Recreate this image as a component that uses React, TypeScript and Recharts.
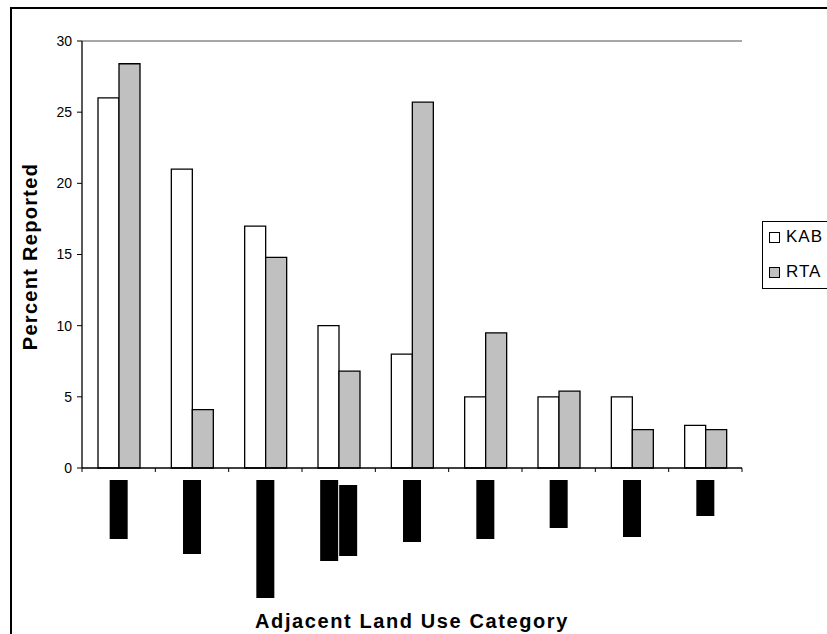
import React from "react";
import { BarChart, Bar, XAxis, YAxis, Legend, ReferenceLine } from "recharts";

// category names are blacked out in the source picture
const categories = ["Cat 1", "Cat 2", "Cat 3", "Cat 4", "Cat 5", "Cat 6", "Cat 7", "Cat 8", "Cat 9"];
const kab = [26, 21, 17, 10, 8, 5, 5, 5, 3];
const rta = [28.4, 4.1, 14.8, 6.8, 25.7, 9.5, 5.4, 2.7, 2.7];
const yTicks = [0, 5, 10, 15, 20, 25, 30];
// length (px) of the black redaction blocks standing in for each rotated label line
const redactedLabelLengths = [[59], [74], [118], [81, 71], [62], [59], [48], [57], [36]];

const data = categories.map((name, i) => ({
	name,
	KAB: kab[i],
	RTA: rta[i],
	blocks: redactedLabelLengths[i],
}));

const FONT = "Arial, 'Liberation Sans', sans-serif";
const fills: Record<string, string> = { KAB: "#ffffff", RTA: "#c0c0c0" };

const RedactedTick = (props: any) => {
	const { x, y, index, width } = props;
	const band = (width || 660) / categories.length;
	const blocks: number[] = redactedLabelLengths[index] || [];
	const colW = 18;
	const total = blocks.length * colW + (blocks.length - 1);
	const start = x - total / 2;
	const axisY = y - 12;
	return (
		<g>
			<line x1={x - band / 2} x2={x - band / 2} y1={axisY} y2={axisY + 4} stroke="#000" />
			{index === categories.length - 1 && (
				<line x1={x + band / 2} x2={x + band / 2} y1={axisY} y2={axisY + 4} stroke="#000" />
			)}
			{blocks.map((len, j) => (
				<rect key={j} x={start + j * (colW + 1)} y={y + (j > 0 ? 5 : 0)} width={colW} height={len} fill="#000" />
			))}
		</g>
	);
};

const LegendBox = (props: any) => {
	const items = props.payload || [];
	return (
		<div style={{ border: "1px solid #000", background: "#fff", height: 66, paddingLeft: 6, boxSizing: "content-box" }}>
			{items.map((it: any, i: number) => (
				<div
					key={it.value}
					style={{ display: "flex", alignItems: "center", height: 30, marginTop: i > 0 ? 5 : 0, fontFamily: FONT, fontSize: 17, letterSpacing: 1, color: "#000" }}
				>
					<span style={{ width: 9, height: 9, border: "1px solid #000", background: fills[it.value], marginRight: 6, display: "inline-block" }} />
					{it.value}
				</div>
			))}
		</div>
	);
};

export default function App() {
	return (
		<div style={{ position: "fixed", left: 0, top: 0, width: 827, height: 634, overflow: "hidden", background: "#fff" }}>
			<div style={{ position: "absolute", left: 10, top: 7, width: 900, height: 700, border: "2px solid #000" }} />
			<div style={{ position: "absolute", left: 0, top: 0 }}>
				<BarChart
					width={827}
					height={634}
					data={data}
					barGap={0}
					margin={{ top: 41, right: 85, left: 22, bottom: 0 }}
				>
					<ReferenceLine y={30} stroke="#8a8a8a" strokeWidth={1.5} />
					<XAxis
						dataKey="name"
						height={166}
						interval={0}
						tickLine={false}
						tickSize={4}
						tickMargin={8}
						axisLine={{ stroke: "#000", strokeWidth: 1.3 }}
						tick={<RedactedTick />}
						label={{
							content: ({ viewBox }: any) => (
								<text
									x={viewBox.x + viewBox.width / 2}
									y={viewBox.y + 160}
									textAnchor="middle"
									fontFamily={FONT}
									fontWeight="bold"
									fontSize={20}
									letterSpacing={1.6}
									fill="#000"
								>
									Adjacent Land Use Category
								</text>
							),
						}}
					/>
					<YAxis
						width={60}
						domain={[0, 30]}
						ticks={yTicks}
						interval={0}
						tickSize={5}
						tickMargin={5}
						axisLine={{ stroke: "#000", strokeWidth: 1.3 }}
						tickLine={{ stroke: "#000" }}
						tick={{ fill: "#000", fontSize: 14, fontFamily: FONT }}
						label={{
							content: ({ viewBox }: any) => {
								const cx = viewBox.x + 15;
								const cy = viewBox.y + viewBox.height / 2 + 2;
								return (
									<text
										x={cx}
										y={cy}
										transform={`rotate(-90, ${cx}, ${cy})`}
										textAnchor="middle"
										fontFamily={FONT}
										fontWeight="bold"
										fontSize={20}
										letterSpacing={1.3}
										fill="#000"
									>
										Percent Reported
									</text>
								);
							},
						}}
					/>
					<YAxis
						yAxisId="right"
						orientation="right"
						width={0}
						domain={[0, 30]}
						tick={false}
						tickLine={false}
						axisLine={{ stroke: "#a0a0a0", strokeWidth: 1.5 }}
					/>
					<Legend
						layout="vertical"
						align="center"
						verticalAlign="middle"
						wrapperStyle={{ left: 762, top: 221, width: 90 }}
						content={<LegendBox />}
					/>
					<Bar dataKey="KAB" fill="#ffffff" stroke="#000" strokeWidth={1.3} barSize={21} isAnimationActive={false} />
					<Bar dataKey="RTA" fill="#c0c0c0" stroke="#000" strokeWidth={1.3} barSize={21} isAnimationActive={false} />
				</BarChart>
			</div>
		</div>
	);
}
